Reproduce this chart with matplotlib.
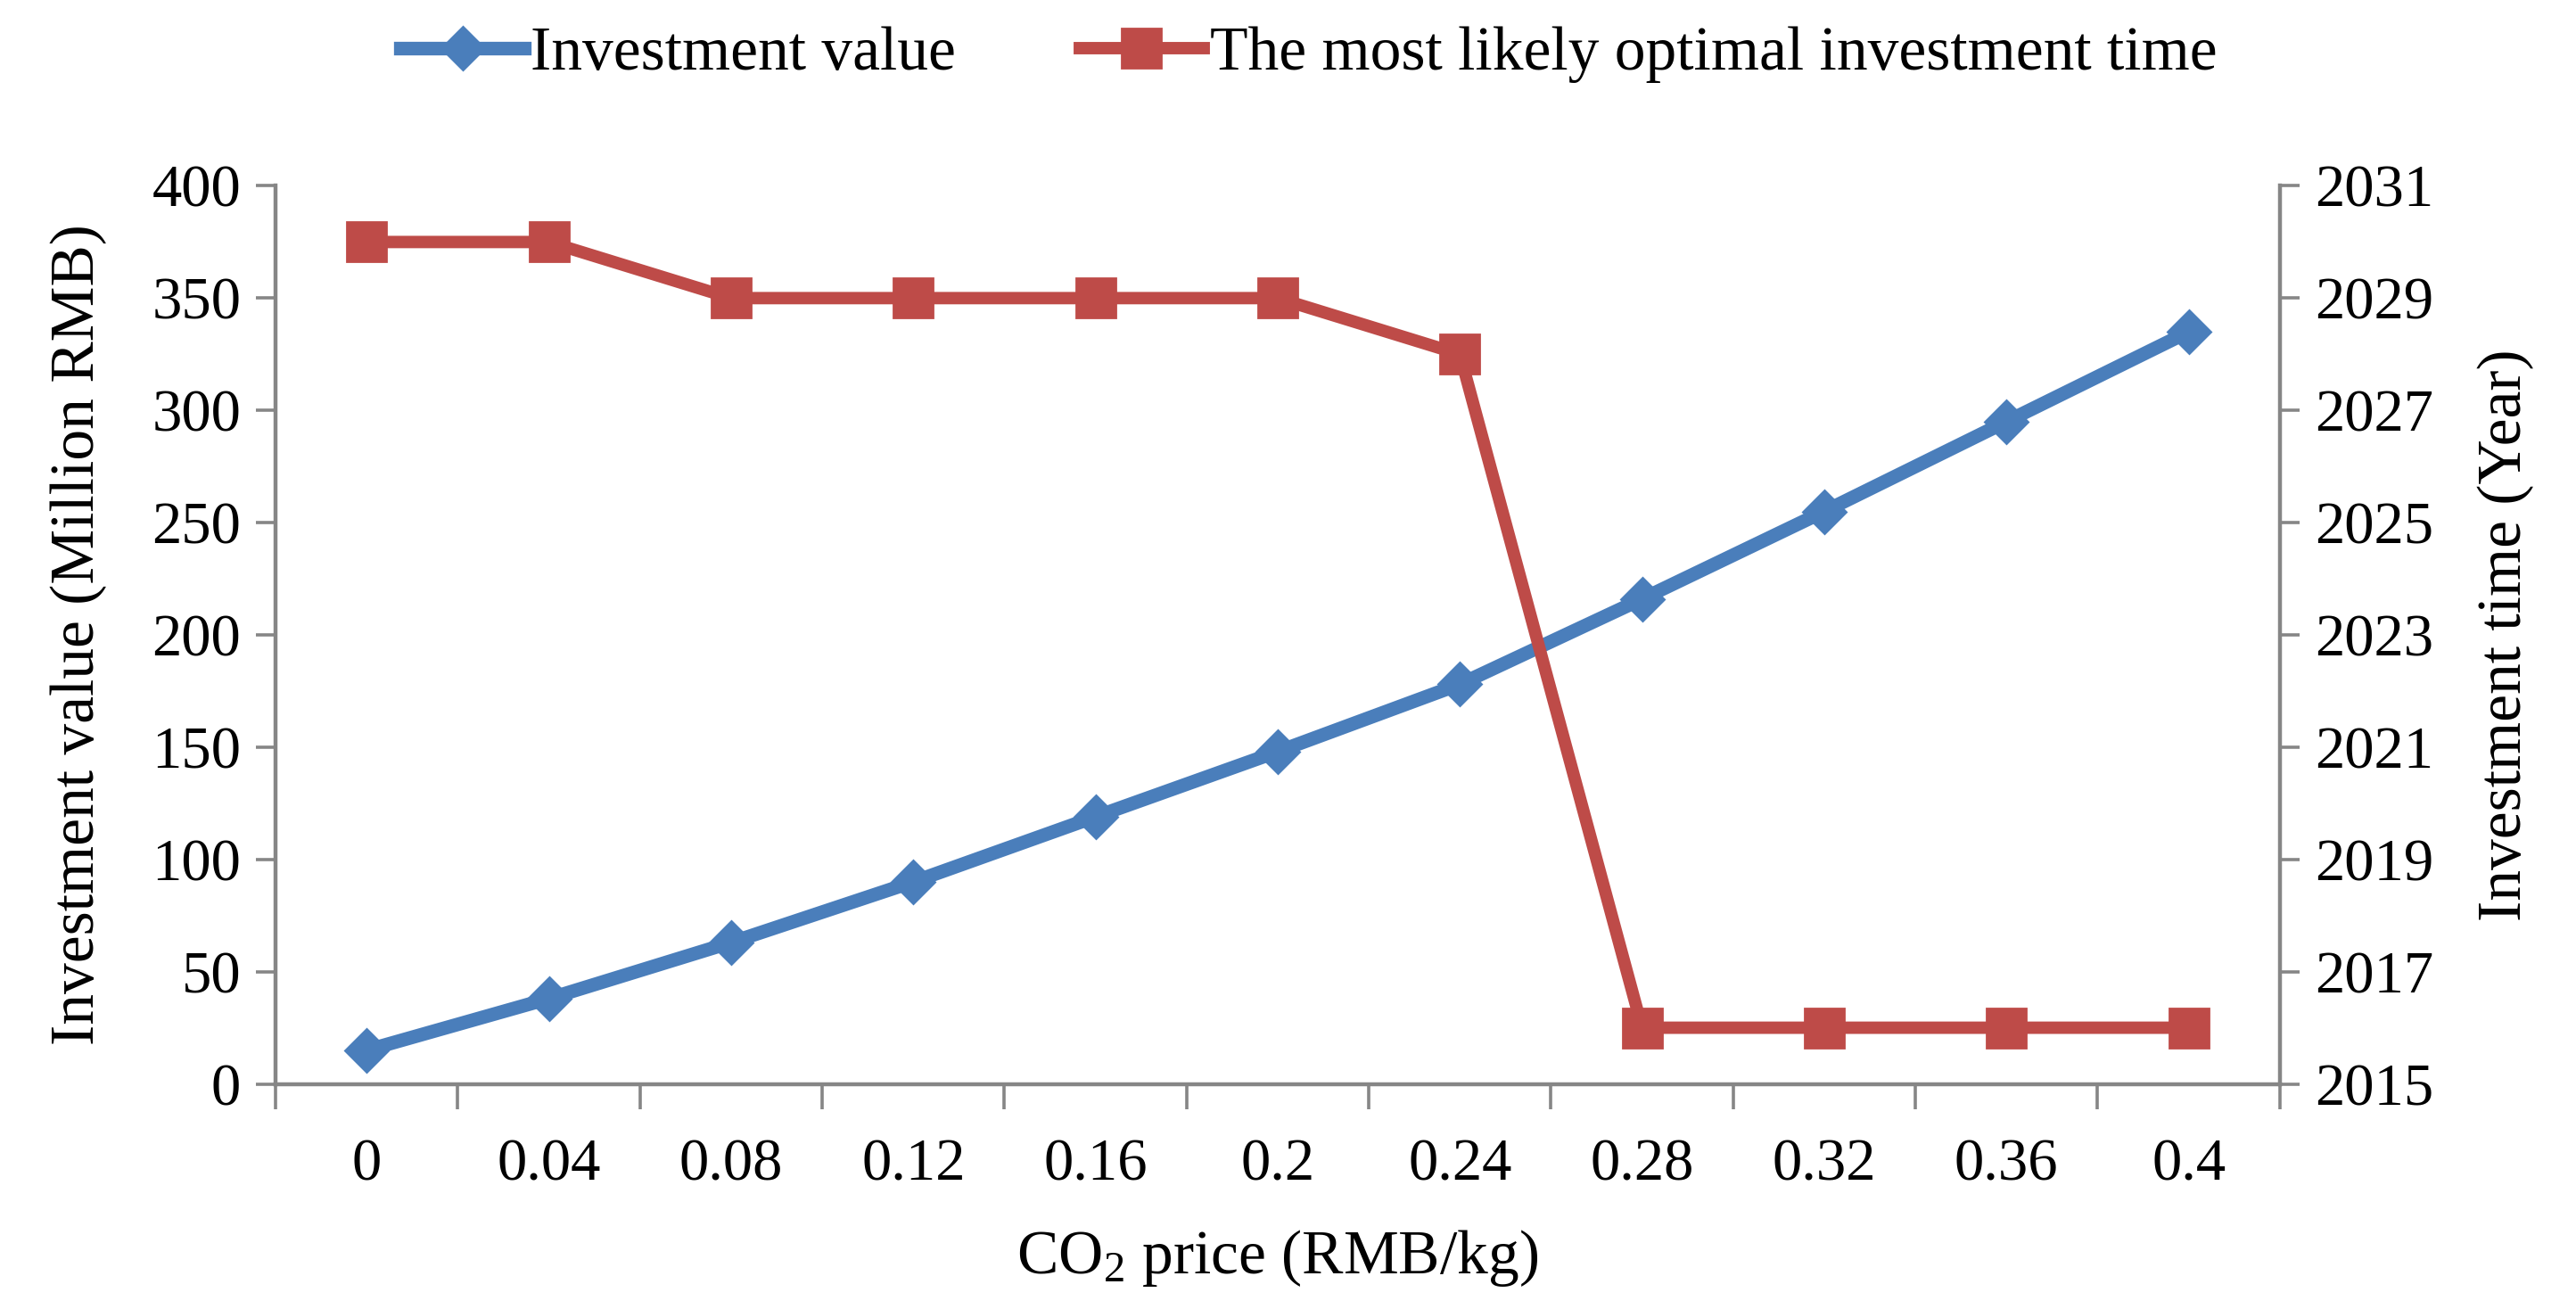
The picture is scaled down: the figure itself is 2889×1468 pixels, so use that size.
import matplotlib
matplotlib.use("Agg")
import matplotlib.pyplot as plt

# CO2 price categories and the two series
co2_price = ["0", "0.04", "0.08", "0.12", "0.16", "0.2", "0.24", "0.28", "0.32", "0.36", "0.4"]
invest_value = [15, 38, 63, 90, 119, 148, 178, 216, 255, 295, 335]
invest_time = [2030, 2030, 2029, 2029, 2029, 2029, 2028, 2016, 2016, 2016, 2016]

left_ticks = [0, 50, 100, 150, 200, 250, 300, 350, 400]
right_ticks = [2015, 2017, 2019, 2021, 2023, 2025, 2027, 2029, 2031]

plt.rcParams['font.family'] = ['Liberation Serif', 'DejaVu Serif']
plt.rcParams['mathtext.fontset'] = 'custom'
plt.rcParams['mathtext.rm'] = 'Liberation Serif'
plt.rcParams['mathtext.it'] = 'Liberation Serif:italic'

blue = "#4A7EBB"
red = "#BE4B48"
gray = "#868686"

fig = plt.figure(figsize=(14.445, 7.34), dpi=200)
ax = fig.add_axes([0.107, 0.172, 0.778, 0.686])
ax2 = ax.twinx()

x = list(range(len(co2_price)))
l1, = ax.plot(x, invest_value, color=blue, lw=5.5, marker='D', ms=12,
              label="Investment value", zorder=3)
l2, = ax2.plot(x, invest_time, color=red, lw=5, marker='s', ms=16,
               label="The most likely optimal investment time", zorder=3)

ax.set_xlim(-0.5, len(co2_price) - 0.5)
ax.set_ylim(0, 400)
ax2.set_ylim(2015, 2031)
ax.set_yticks(left_ticks)
ax2.set_yticks(right_ticks)
ax.set_xticks(x)
ax.set_xticklabels(co2_price)
ax.set_xticks([i - 0.5 for i in range(len(co2_price) + 1)], minor=True)

for a in (ax, ax2):
    a.spines['top'].set_visible(False)
    for s in ('left', 'right', 'bottom'):
        a.spines[s].set_color(gray)
        a.spines[s].set_linewidth(1.6)
ax.spines['right'].set_visible(False)
ax2.spines['left'].set_visible(False)
ax2.spines['bottom'].set_visible(False)

ax.tick_params(axis='x', which='major', length=0, labelsize=24, pad=22)
ax.tick_params(axis='x', which='minor', length=10, width=1.3, color=gray)
ax.tick_params(axis='y', length=8, width=1.3, color=gray, labelsize=24, pad=6)
ax2.tick_params(axis='y', length=8, width=1.3, color=gray, labelsize=24, pad=6)

ax.set_xlabel("CO$_2$ price (RMB/kg)", fontsize=25, labelpad=14)
ax.set_ylabel("Investment value (Million RMB)", fontsize=25, labelpad=18)
ax2.set_ylabel("Investment time (Year)", fontsize=25, labelpad=18)

fig.legend(handles=[l1, l2], loc='center', bbox_to_anchor=(0.508, 0.958),
           ncol=2, frameon=False, fontsize=25, handlelength=2.0,
           handletextpad=0.1, columnspacing=2.0)

fig.savefig("out.png", dpi=200)
